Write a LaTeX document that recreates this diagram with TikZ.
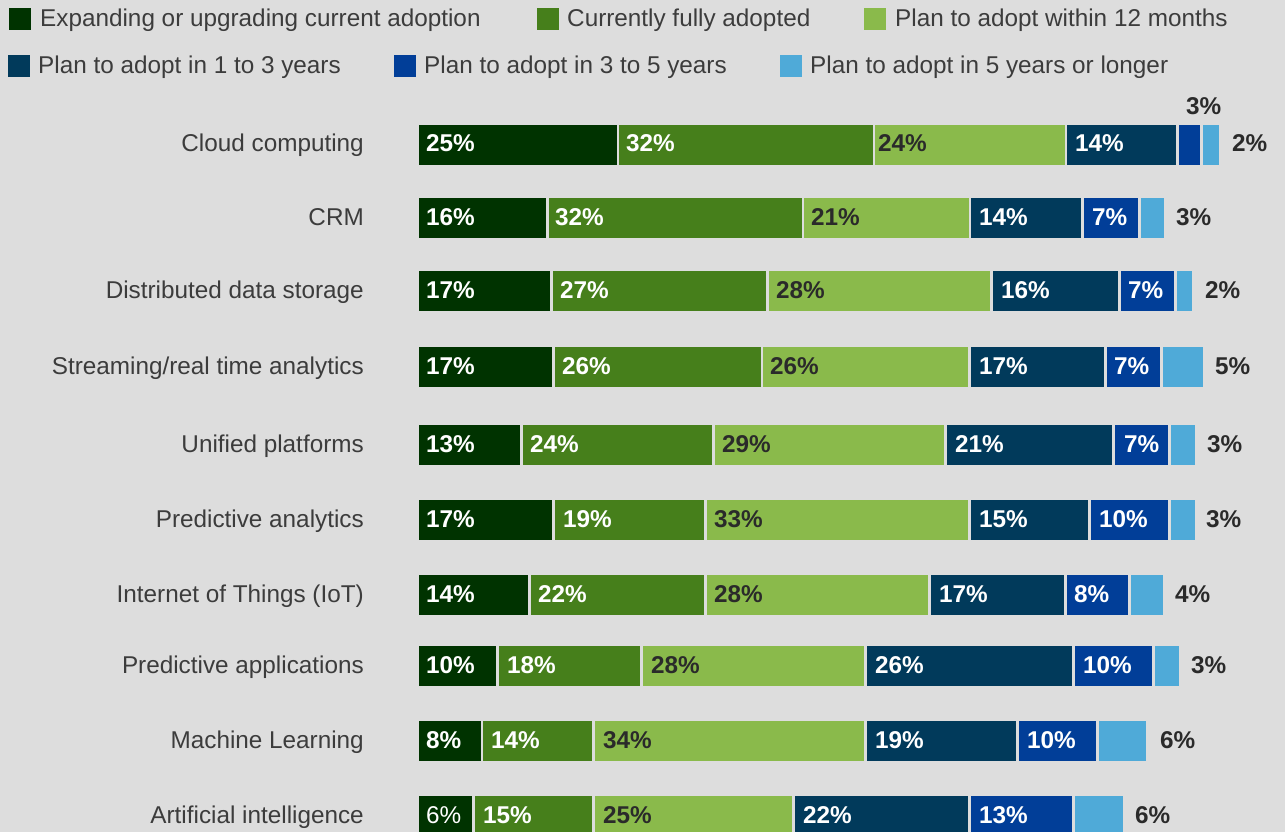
\documentclass[tikz,border=0pt]{standalone}
\usepackage{fontspec}
\setmainfont{Liberation Sans}
\usetikzlibrary{calc}
\usetikzlibrary{positioning}

\definecolor{bgcol}{HTML}{DDDDDD}
\definecolor{expcol}{HTML}{003300}
\definecolor{fullcol}{HTML}{467F1B}
\definecolor{twelvecol}{HTML}{8ABA4B}
\definecolor{onethreecol}{HTML}{013A5B}
\definecolor{threefivecol}{HTML}{013E98}
\definecolor{fivecol}{HTML}{4FAAD8}
\definecolor{txtcol}{HTML}{3C3C3C}
\definecolor{numcol}{HTML}{2A2A2A}

\begin{document}
\begin{tikzpicture}[%
  x=1pt, y=-1pt,
  expand/.style={fill=expcol},
  fully/.style={fill=fullcol},
  twelve/.style={fill=twelvecol},
  onethree/.style={fill=onethreecol},
  threefive/.style={fill=threefivecol},
  fiveplus/.style={fill=fivecol},
  txt/.style={inner sep=0pt, font=\fontsize{24.3pt}{28pt}\selectfont},
  catlab/.style={txt, anchor=base east, text=txtcol},
  leglab/.style={txt, anchor=base west, text=txtcol},
  inlab/.style={txt, anchor=base west, text=white, font=\fontsize{24.3pt}{28pt}\selectfont\bfseries},
  darklab/.style={inlab, text=numcol},
  outlab/.style={inlab, text=numcol},
]

  \fill[bgcol] (0,0) rectangle (1285,832);
  \useasboundingbox (0,0) rectangle (1285,832);

  % legend
  \fill[expand] (9,8) rectangle (31,30);
  \node[leglab] (leg1) at (40,27) {Expanding or upgrading current adoption};
  \fill[fully] (537,8) rectangle (559,30);
  \node[leglab] (leg2) at (567,27) {Currently fully adopted};
  \fill[twelve] (864,8) rectangle (886,30);
  \node[leglab] (leg3) at (895,27) {Plan to adopt within 12 months};
  \fill[onethree] (8,55) rectangle (30,77);
  \node[leglab] (leg4) at (38,74) {Plan to adopt in 1 to 3 years};
  \fill[threefive] (394,55) rectangle (416,77);
  \node[leglab] (leg5) at (424,74) {Plan to adopt in 3 to 5 years};
  \fill[fiveplus] (780,55) rectangle (802,77);
  \node[leglab] (leg6) at (810,74) {Plan to adopt in 5 years or longer};

  % Cloud computing
  \node[catlab] (cat1) at (364,152) {Cloud computing};
  \fill[expand] (419,125) rectangle (617,165);
  \fill[fully] (619,125) rectangle (873,165);
  \fill[twelve] (875,125) rectangle (1065,165);
  \fill[onethree] (1067,125) rectangle (1176,165);
  \fill[threefive] (1179,125) rectangle (1200,165);
  \fill[fiveplus] (1203,125) rectangle (1219,165);
  \node[inlab] (cc1) at (426,152) {25\%};
  \node[inlab] (cc2) at (626,152) {32\%};
  \node[darklab] (cc3) at (878,152) {24\%};
  \node[inlab] (cc4) at (1075,152) {14\%};
  \node[outlab] (cc5) at (1186,115) {3\%};
  \node[outlab] (cc6) at (1232,152) {2\%};

  % CRM
  \node[catlab] (cat2) at (364,225) {CRM};
  \fill[expand] (419,198) rectangle (546,238);
  \fill[fully] (549,198) rectangle (802,238);
  \fill[twelve] (804,198) rectangle (969,238);
  \fill[onethree] (971,198) rectangle (1081,238);
  \fill[threefive] (1084,198) rectangle (1138,238);
  \fill[fiveplus] (1141,198) rectangle (1164,238);
  \node[inlab] (crm1) at (426,225) {16\%};
  \node[inlab] (crm2) at (555,225) {32\%};
  \node[darklab] (crm3) at (811,225) {21\%};
  \node[inlab] (crm4) at (979,225) {14\%};
  \node[inlab] (crm5) at (1092,225) {7\%};
  \node[outlab] (crm6) at (1176,225) {3\%};

  % Distributed data storage
  \node[catlab] (cat3) at (364,298) {Distributed data storage};
  \fill[expand] (419,271) rectangle (550,311);
  \fill[fully] (553,271) rectangle (766,311);
  \fill[twelve] (769,271) rectangle (990,311);
  \fill[onethree] (993,271) rectangle (1118,311);
  \fill[threefive] (1121,271) rectangle (1174,311);
  \fill[fiveplus] (1177,271) rectangle (1192,311);
  \node[inlab] (dds1) at (426,298) {17\%};
  \node[inlab] (dds2) at (560,298) {27\%};
  \node[darklab] (dds3) at (776,298) {28\%};
  \node[inlab] (dds4) at (1001,298) {16\%};
  \node[inlab] (dds5) at (1128,298) {7\%};
  \node[outlab] (dds6) at (1205,298) {2\%};

  % Streaming/real time analytics
  \node[catlab] (cat4) at (364,374) {Streaming/real time analytics};
  \fill[expand] (419,347) rectangle (552,387);
  \fill[fully] (555,347) rectangle (761,387);
  \fill[twelve] (763,347) rectangle (968,387);
  \fill[onethree] (971,347) rectangle (1104,387);
  \fill[threefive] (1107,347) rectangle (1160,387);
  \fill[fiveplus] (1163,347) rectangle (1203,387);
  \node[inlab] (str1) at (426,374) {17\%};
  \node[inlab] (str2) at (562,374) {26\%};
  \node[darklab] (str3) at (770,374) {26\%};
  \node[inlab] (str4) at (979,374) {17\%};
  \node[inlab] (str5) at (1114,374) {7\%};
  \node[outlab] (str6) at (1215,374) {5\%};

  % Unified platforms
  \node[catlab] (cat5) at (364,452) {Unified platforms};
  \fill[expand] (419,425) rectangle (520,465);
  \fill[fully] (523,425) rectangle (712,465);
  \fill[twelve] (715,425) rectangle (944,465);
  \fill[onethree] (947,425) rectangle (1112,465);
  \fill[threefive] (1115,425) rectangle (1168,465);
  \fill[fiveplus] (1171,425) rectangle (1195,465);
  \node[inlab] (uni1) at (426,452) {13\%};
  \node[inlab] (uni2) at (530,452) {24\%};
  \node[darklab] (uni3) at (722,452) {29\%};
  \node[inlab] (uni4) at (955,452) {21\%};
  \node[inlab] (uni5) at (1124,452) {7\%};
  \node[outlab] (uni6) at (1207,452) {3\%};

  % Predictive analytics
  \node[catlab] (cat6) at (364,527) {Predictive analytics};
  \fill[expand] (419,500) rectangle (552,540);
  \fill[fully] (555,500) rectangle (704,540);
  \fill[twelve] (707,500) rectangle (968,540);
  \fill[onethree] (971,500) rectangle (1088,540);
  \fill[threefive] (1091,500) rectangle (1168,540);
  \fill[fiveplus] (1171,500) rectangle (1195,540);
  \node[inlab] (pa1) at (426,527) {17\%};
  \node[inlab] (pa2) at (563,527) {19\%};
  \node[darklab] (pa3) at (714,527) {33\%};
  \node[inlab] (pa4) at (979,527) {15\%};
  \node[inlab] (pa5) at (1099,527) {10\%};
  \node[outlab] (pa6) at (1206,527) {3\%};

  % Internet of Things
  \node[catlab] (cat7) at (364,602) {Internet of Things (IoT)};
  \fill[expand] (419,575) rectangle (528,615);
  \fill[fully] (531,575) rectangle (704,615);
  \fill[twelve] (707,575) rectangle (928,615);
  \fill[onethree] (931,575) rectangle (1064,615);
  \fill[threefive] (1067,575) rectangle (1128,615);
  \fill[fiveplus] (1131,575) rectangle (1163,615);
  \node[inlab] (iot1) at (426,602) {14\%};
  \node[inlab] (iot2) at (538,602) {22\%};
  \node[darklab] (iot3) at (714,602) {28\%};
  \node[inlab] (iot4) at (939,602) {17\%};
  \node[inlab] (iot5) at (1074,602) {8\%};
  \node[outlab] (iot6) at (1175,602) {4\%};

  % Predictive applications
  \node[catlab] (cat8) at (364,673) {Predictive applications};
  \fill[expand] (419,646) rectangle (496,686);
  \fill[fully] (499,646) rectangle (640,686);
  \fill[twelve] (643,646) rectangle (864,686);
  \fill[onethree] (867,646) rectangle (1072,686);
  \fill[threefive] (1075,646) rectangle (1152,686);
  \fill[fiveplus] (1155,646) rectangle (1179,686);
  \node[inlab] (pap1) at (426,673) {10\%};
  \node[inlab] (pap2) at (507,673) {18\%};
  \node[darklab] (pap3) at (651,673) {28\%};
  \node[inlab] (pap4) at (875,673) {26\%};
  \node[inlab] (pap5) at (1083,673) {10\%};
  \node[outlab] (pap6) at (1191,673) {3\%};

  % Machine Learning
  \node[catlab] (cat9) at (364,748) {Machine Learning};
  \fill[expand] (419,721) rectangle (481,761);
  \fill[fully] (483,721) rectangle (592,761);
  \fill[twelve] (595,721) rectangle (864,761);
  \fill[onethree] (867,721) rectangle (1016,761);
  \fill[threefive] (1019,721) rectangle (1096,761);
  \fill[fiveplus] (1099,721) rectangle (1146,761);
  \node[inlab] (ml1) at (426,748) {8\%};
  \node[inlab] (ml2) at (491,748) {14\%};
  \node[darklab] (ml3) at (603,748) {34\%};
  \node[inlab] (ml4) at (875,748) {19\%};
  \node[inlab] (ml5) at (1027,748) {10\%};
  \node[outlab] (ml6) at (1160,748) {6\%};

  % Artificial intelligence
  \node[catlab] (cat10) at (364,823) {Artificial intelligence};
  \fill[expand] (419,796) rectangle (472,836);
  \fill[fully] (475,796) rectangle (592,836);
  \fill[twelve] (595,796) rectangle (792,836);
  \fill[onethree] (795,796) rectangle (968,836);
  \fill[threefive] (971,796) rectangle (1072,836);
  \fill[fiveplus] (1075,796) rectangle (1123,836);
  \node[inlab, font=\fontsize{24.3pt}{28pt}\selectfont] (ai1) at (426,823) {6\%};
  \node[inlab] (ai2) at (483,823) {15\%};
  \node[darklab] (ai3) at (603,823) {25\%};
  \node[inlab] (ai4) at (803,823) {22\%};
  \node[inlab] (ai5) at (979,823) {13\%};
  \node[outlab] (ai6) at (1135,823) {6\%};

\end{tikzpicture}
\end{document}
